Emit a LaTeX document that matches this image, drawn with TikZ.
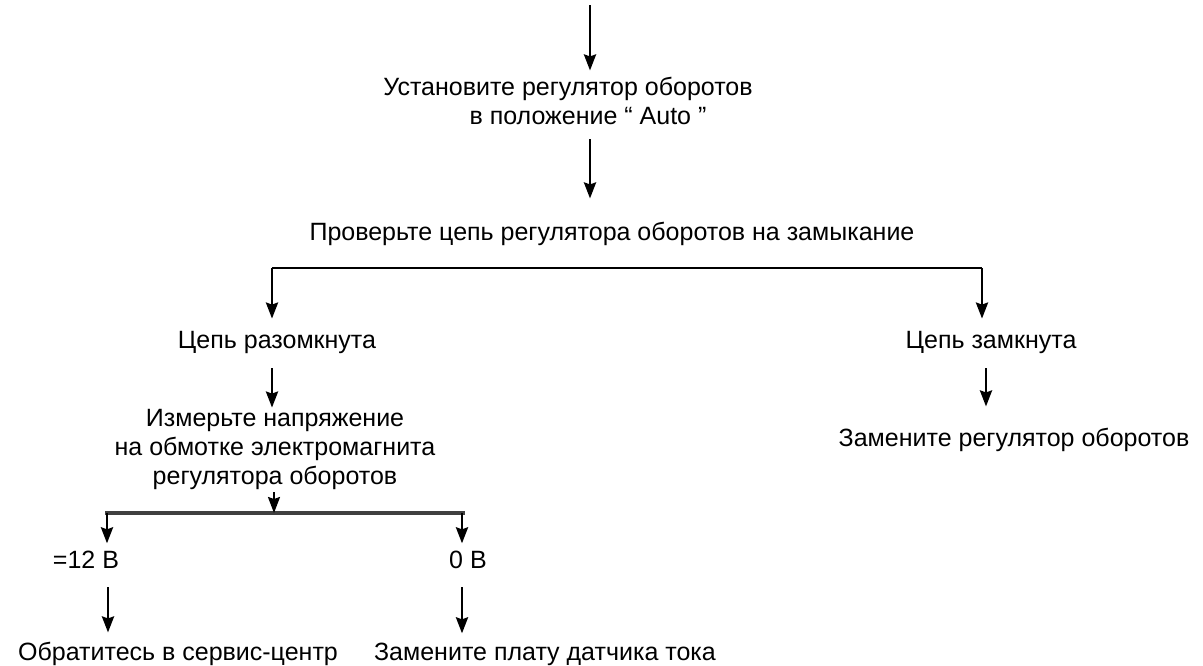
\documentclass[tikz,border=0pt]{standalone}
\usepackage{fontspec}
\setmainfont{Liberation Sans}
\usetikzlibrary{arrows.meta}
\tikzset{
	txt/.style={align=center, inner sep=3pt, anchor=base, font=\fontsize{25}{29}\selectfont},
	arr/.style={line width=2.8pt, -{Stealth[length=16pt,width=12pt,inset=2pt]}},
	bar/.style={line width=2.2pt},
	thickbar/.style={line width=3.8pt, black!75}
}
\begin{document}
\begin{tikzpicture}[x=1pt,y=-1pt]
			\useasboundingbox (0,0) rectangle (1203,665);
			\coordinate (start) at (590,5);
			\node [txt] (set) at (568,124) {Установите регулятор оборотов\\\hspace*{40pt}в положение “ Auto ”};
			\node [txt] (check) at (612,240) {Проверьте цепь регулятора оборотов на замыкание};
			\draw [arr, shorten >=3pt] (start) -- (start |- set.north);
			\draw [arr, shorten <=12pt, shorten >=20pt] (start |- set.south) -- (start |- check.north);
			% branch: open / closed
			\coordinate (bl) at (272,268);
			\coordinate (br) at (982,268);
			\node [txt] (open) at (277,348) {Цепь разомкнута};
			\node [txt] (closed) at (991,348) {Цепь замкнута};
			\draw [bar] (bl) -- (br);
			\draw [arr, shorten >=9pt] (bl) -- (bl |- open.north);
			\draw [arr, shorten >=9pt] (br) -- (br |- closed.north);
			\node [txt] (replreg) at (1014,446) {Замените регулятор оборотов};
			\draw [arr, shorten <=12pt, shorten >=18pt] (986,0 |- closed.south) -- (986,0 |- replreg.north);
			\node [txt] (meas) at (275,484) {Измерьте напряжение\\на обмотке электромагнита\\регулятора оборотов};
			\draw [arr, shorten <=12pt, shorten >=-2pt] (272,0 |- open.south) -- (272,0 |- meas.north);
			% branch: 12 V / 0 V
			\coordinate (vl) at (105,513);
			\coordinate (vr) at (465,513);
			\coordinate (vm) at (274,513);
			\node [txt] (twelve) at (86,568) {=12 В};
			\node [txt] (zero) at (468,568) {0 В};
			\draw [thickbar] (vl) -- (vr);
			\draw [arr, line width=2pt] (vm |- meas.south) -- (vm);
			\draw [arr, shorten >=4pt] (107,513) -- (107,0 |- twelve.north);
			\draw [arr, shorten >=4pt] (462,513) -- (462,0 |- zero.north);
			\node [txt] (service) at (178,660) {Обратитесь в сервис-центр};
			\node [txt] (board) at (545,660) {Замените плату датчика тока};
			\draw [arr, shorten <=16pt, shorten >=6pt] (108,0 |- twelve.south) -- (108,0 |- service.north);
			\draw [arr, shorten <=16pt, shorten >=6pt] (462,0 |- zero.south) -- (462,0 |- board.north);
		\end{tikzpicture}
\end{document}
